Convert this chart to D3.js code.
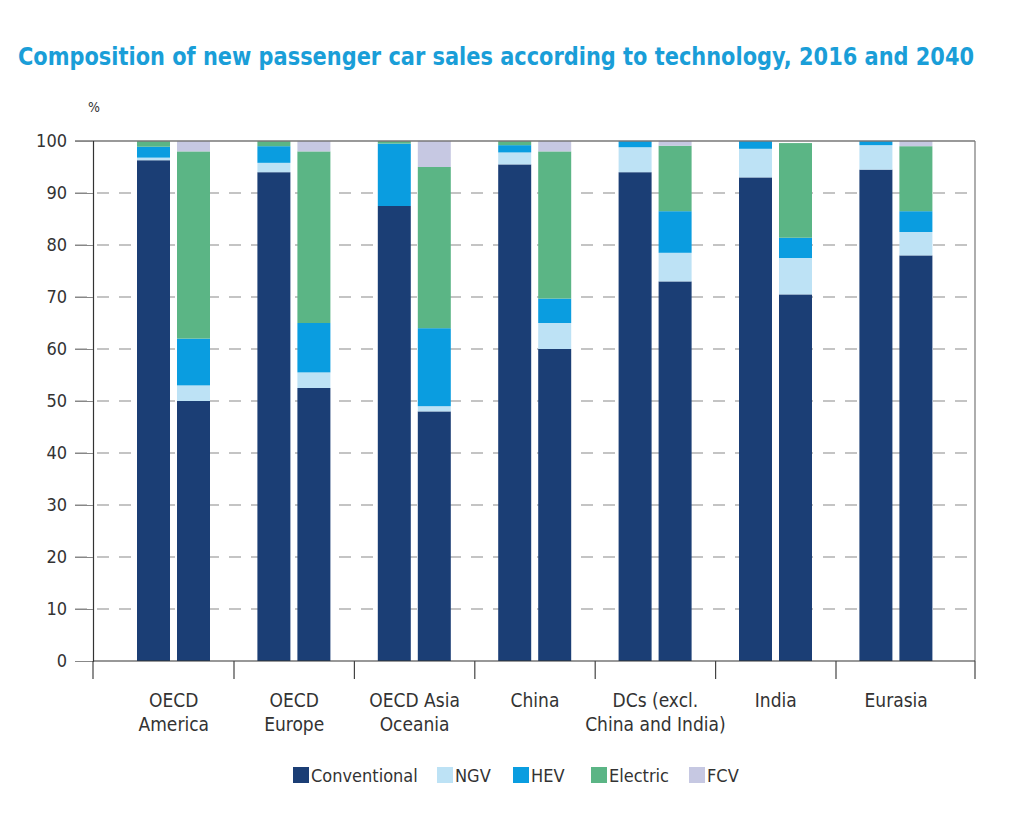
<!DOCTYPE html>
<html>
<head>
<meta charset="utf-8">
<script src="https://cdn.jsdelivr.net/npm/d3@7"></script>
<style>
  body { margin: 0; background: #fff; }
  text { font-family: "DejaVu Sans Condensed", "DejaVu Sans", sans-serif; }
</style>
</head>
<body>
<div id="chart"></div>
<script>
// regions and years
var regions = ["OECD America", "OECD Europe", "OECD Asia Oceania", "China", "DCs (excl. China and India)", "India", "Eurasia"];
var regionLines = [["OECD", "America"], ["OECD", "Europe"], ["OECD Asia", "Oceania"], ["China"], ["DCs (excl.", "China and India)"], ["India"], ["Eurasia"]];
var years = ["2016", "2040"];
var techs = ["Conventional", "NGV", "HEV", "Electric", "FCV"];

// shares in %, one value per region, for 2016 and 2040
var conventional2016 = [96.3, 94, 87.5, 95.5, 94, 93, 94.5];
var ngv2016          = [0.5, 1.8, 0, 2.3, 4.8, 5.5, 4.7];
var hev2016          = [2.1, 3.2, 12, 1.4, 1.2, 1.5, 0.8];
var electric2016     = [1.1, 1, 0.5, 0.8, 0, 0, 0];
var fcv2016          = [0, 0, 0, 0, 0, 0, 0];

var conventional2040 = [50, 52.5, 48, 60, 73, 70.5, 78];
var ngv2040          = [3, 3, 1, 5, 5.5, 7, 4.5];
var hev2040          = [9, 9.5, 15, 4.7, 8, 3.9, 4];
var electric2040     = [36, 33, 31, 28.3, 12.6, 18.2, 12.5];
var fcv2040          = [2, 2, 5, 2, 0.9, 0, 1];

var yTicks = [0, 10, 20, 30, 40, 50, 60, 70, 80, 90, 100];
var colors = ["#1b3e75", "#bde2f5", "#0a9de0", "#5bb585", "#c6c8e2"];

var series = {
  "2016": [conventional2016, ngv2016, hev2016, electric2016, fcv2016],
  "2040": [conventional2040, ngv2040, hev2040, electric2040, fcv2040]
};

var rows = [];
regions.forEach(function(r, i) {
  years.forEach(function(yr) {
    var row = {region: r, year: yr};
    techs.forEach(function(t, k) { row[t] = series[yr][k][i]; });
    rows.push(row);
  });
});

var width = 1030, height = 820;
var plotLeft = 93, plotRight = 975, plotTop = 141, plotBottom = 661;

var svg = d3.select("#chart").append("svg")
  .attr("width", width)
  .attr("height", height);

svg.append("text")
  .attr("x", 18).attr("y", 65)
  .attr("textLength", 956).attr("lengthAdjust", "spacingAndGlyphs")
  .style("font-size", "25px").style("font-weight", "bold")
  .style("fill", "#1a9ed8")
  .text("Composition of new passenger car sales according to technology, 2016 and 2040");

var x0 = d3.scaleBand().domain(regions).range([113.6, 956.4]);
var x1 = d3.scaleBand().domain(years).range([23.4, 96.4]).paddingInner(0.175);
var y = d3.scaleLinear().domain([0, 100]).range([plotBottom, plotTop]);

// gridlines
svg.append("g").selectAll("line")
  .data(yTicks.filter(function(d) { return d > 0 && d < 100; }))
  .enter().append("line")
  .attr("x1", 75).attr("x2", plotRight)
  .attr("y1", function(d) { return y(d); })
  .attr("y2", function(d) { return y(d); })
  .style("stroke", "#8a8a8a").style("stroke-width", 1.2)
  .style("stroke-dasharray", "12,10");

// bars
var layers = d3.stack().keys(techs)(rows);

svg.append("g").selectAll("g")
  .data(layers)
  .enter().append("g")
  .style("fill", function(d, i) { return colors[i]; })
  .selectAll("rect")
  .data(function(d) { return d; })
  .enter().append("rect")
  .attr("x", function(d) { return x0(d.data.region) + x1(d.data.year); })
  .attr("width", x1.bandwidth())
  .attr("y", function(d) { return y(d[1]); })
  .attr("height", function(d) { return y(d[0]) - y(d[1]); });

// frame: top + right
svg.append("line").attr("x1", 75).attr("x2", plotRight).attr("y1", y(100)).attr("y2", y(100))
  .style("stroke", "#777").style("stroke-width", 1.5);
svg.append("line").attr("x1", plotRight).attr("x2", plotRight).attr("y1", y(100)).attr("y2", plotBottom)
  .style("stroke", "#777").style("stroke-width", 1.2);

// y axis
var yAxis = svg.append("g")
  .attr("transform", "translate(" + plotLeft + ",0)")
  .call(d3.axisLeft(y).tickValues(yTicks).tickSize(18).tickPadding(8));
yAxis.select(".domain").style("stroke", "#333").style("stroke-width", 1.2);
yAxis.selectAll(".tick line").style("stroke", "#888");
yAxis.selectAll("text").style("font-size", "18px").style("fill", "#333");

svg.append("text").attr("x", 88).attr("y", 112)
  .style("font-size", "14px").style("fill", "#333").text("%");

// x axis
svg.append("line").attr("x1", plotLeft).attr("x2", plotRight).attr("y1", plotBottom).attr("y2", plotBottom)
  .style("stroke", "#333").style("stroke-width", 1.2);
var bounds = [plotLeft].concat(regions.slice(1).map(function(r) { return x0(r); })).concat([plotRight]);
svg.append("g").selectAll("line")
  .data(bounds)
  .enter().append("line")
  .attr("x1", function(d) { return d; }).attr("x2", function(d) { return d; })
  .attr("y1", plotBottom).attr("y2", plotBottom + 18)
  .style("stroke", "#444").style("stroke-width", 1.2);

var labels = svg.append("g").selectAll("text")
  .data(regions)
  .enter().append("text")
  .attr("text-anchor", "middle")
  .style("font-size", "19px").style("fill", "#333");
labels.each(function(r, i) {
  var t = d3.select(this);
  var cx = x0(r) + x0.bandwidth() / 2;
  regionLines[i].forEach(function(line, j) {
    t.append("tspan").attr("x", cx).attr("y", 707 + j * 24).text(line);
  });
});

// legend
var legendX = [293, 437, 513, 591, 689];
var legend = svg.append("g").selectAll("g")
  .data(techs)
  .enter().append("g")
  .attr("transform", function(d, i) { return "translate(" + legendX[i] + ",767)"; });
legend.append("rect").attr("width", 16).attr("height", 16)
  .style("fill", function(d, i) { return colors[i]; });
legend.append("text").attr("x", 18).attr("y", 15)
  .style("font-size", "18px").style("fill", "#333")
  .text(function(d) { return d; });
</script>
</body>
</html>
